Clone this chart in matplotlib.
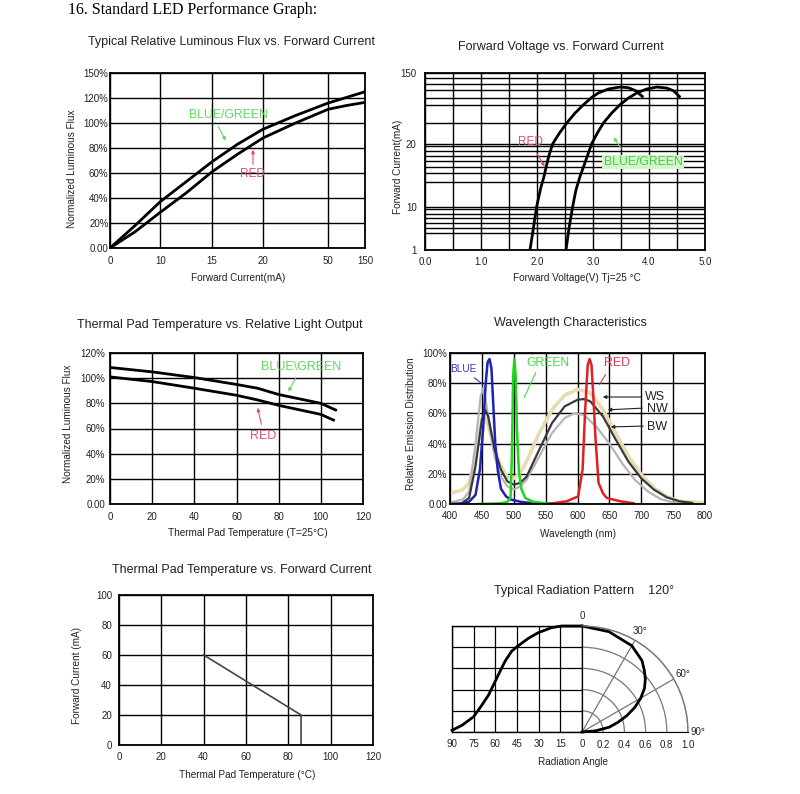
import numpy as np
import matplotlib
matplotlib.use('Agg')
import matplotlib.pyplot as plt
from matplotlib.patches import FancyArrowPatch

SANS = ['Liberation Sans', 'DejaVu Sans']
SERIF = ['Liberation Serif', 'DejaVu Serif']
plt.rcParams['font.family'] = SANS

W, H = 800, 794

# ---------------- data ----------------
# 1. Relative luminous flux vs forward current
flux_current = [0, 5, 10, 12.5, 15, 17.5, 20, 35, 50, 100, 150]
flux_bluegreen = [0, 18, 37, 53, 69, 83, 95, 106, 116, 120.5, 125]
flux_red = [0, 13, 28.5, 44, 61, 75, 88, 100, 111, 114, 116.5]
flux_xticks = [0, 10, 15, 20, 50, 150]
flux_xpos = [0, 1, 2.033, 3.047, 4.347, 5.08]
flux_yticks = [0, 20, 40, 60, 80, 100, 120, 140]
flux_ylabels = ['0.00', '20%', '40%', '60%', '80%', '100%', '120%', '150%']

# 2. Forward voltage vs forward current
vf_red_v = [1.875, 1.935, 1.994, 2.065, 2.125, 2.208, 2.28, 2.40, 2.53, 2.679, 2.83,
            2.976, 3.095, 3.274, 3.48, 3.631, 3.75, 3.88]
vf_red_i = [1, 5.5, 10, 12.9, 14.8, 17.98, 20, 39.6, 58, 76.4, 91.7,
            105.2, 113.2, 120.6, 124.2, 123, 118.1, 107]
vf_bg_v = [2.518, 2.571, 2.637, 2.696, 2.768, 2.875, 2.976, 3.077, 3.185, 3.333, 3.482,
           3.631, 3.78, 3.958, 4.137, 4.315, 4.435, 4.542]
vf_bg_i = [1, 5.5, 10, 12.66, 14.79, 17.45, 20, 39.6, 58, 76.4, 91.7,
           104, 113.2, 120.6, 124.2, 122.4, 117.5, 107]
vf_yticks = [1, 10, 20, 150]
vf_ypos = [0, 130, 318, 530]
vf_ygrid = [4.5, 5.6, 6.6, 7.6, 8.5, 9.5, 13.9, 15.4, 16.3, 17.3, 18.1, 18.8,
            19.6, 59, 91, 105, 119, 130, 140]
vf_xticks = [0, 1, 2, 3, 4, 5]
vf_xlabels = ['0.0', '1.0', '2.0', '3.0', '4.0', '5.0']
vf_xgrid = [0.5, 1.5, 2.5, 3.5, 4.5]

# 3. Thermal pad temperature vs relative light output
tp_bg_temp = [0, 20, 40, 60, 70, 80, 100, 107]
tp_bg = [108.5, 105, 100.5, 95, 92, 87, 80, 74.7]
tp_red_temp = [0, 20, 40, 60, 70, 80, 100, 106]
tp_red = [101, 97.3, 92, 86.4, 82.7, 78.4, 71.2, 66.7]
tp_xticks = [0, 20, 40, 60, 80, 100, 120]
tp_yticks = [0, 20, 40, 60, 80, 100, 120]
tp_ylabels = ['0.00', '20%', '40%', '60%', '80%', '100%', '120%']

# 4. Wavelength characteristics
wl_blue_x = [400, 420, 430, 440, 447, 452, 456, 459, 462, 465, 468, 471, 475, 480, 488, 495, 510, 530, 598]
wl_blue_y = [0, 0.5, 1.5, 6, 23, 50, 80, 94, 96, 90, 65, 40, 22, 10, 5, 3, 1.5, 0.5, 0]
wl_green_x = [444, 480, 490, 495, 497, 499, 501, 503, 505, 508, 512, 518, 530, 550, 572]
wl_green_y = [0, 0.5, 1.5, 4, 30, 85, 96, 85, 50, 22, 10, 4, 1.5, 0.5, 0]
wl_red_x = [554, 583, 601, 608, 612, 616, 619, 622, 625, 628, 633, 640, 646, 667, 688]
wl_red_y = [0, 1.8, 5, 23, 62, 92, 96, 92, 70, 45, 14, 7, 4, 1.8, 0.5]
wl_ws_x = [400, 420, 430, 440, 450, 455, 460, 470, 480, 490, 500, 510, 520, 540, 560, 580, 600,
           620, 640, 660, 680, 700, 720, 740, 760, 800]
wl_ws_y = [7, 9.5, 14, 31, 56, 58, 52, 36, 25, 18, 17, 20.5, 28, 47, 62.5, 72, 76,
           73.5, 62.5, 47, 31.5, 19.4, 10.6, 5, 1.8, 0.7]
wl_nw_x = [420, 430, 440, 450, 455, 460, 470, 480, 490, 500, 510, 520, 540, 560, 580, 600, 610,
           620, 640, 660, 680, 700, 720, 740, 760, 780]
wl_nw_y = [1, 4, 25, 56, 62.5, 58, 36, 22.7, 15, 12.8, 14, 18, 36, 53.6, 64.7, 69, 69.5,
           68, 58, 42.6, 28, 17, 9.5, 4.4, 1.8, 0.7]
wl_bw_x = [400, 420, 430, 440, 448, 452, 456, 462, 470, 480, 490, 500, 510, 520, 540, 560, 580,
           595, 610, 630, 650, 670, 690, 710, 730, 750, 770]
wl_bw_y = [1, 3, 8, 40, 71, 77, 69, 51, 31.5, 18, 11.7, 9.5, 11.7, 16, 31.5, 47, 57,
           60, 59, 51, 40, 27, 16, 8.4, 3.3, 1, 0.2]
wl_xticks = [400, 450, 500, 550, 600, 650, 700, 750, 800]
wl_yticks = [0, 20, 40, 60, 80, 100]
wl_ylabels = ['0.00', '20%', '40%', '60%', '80%', '100%']

# 5. Thermal pad temperature vs forward current (derating)
dr_temp = [40, 86, 86]
dr_current = [60, 20, 0]
dr_xticks = [0, 20, 40, 60, 80, 100, 120]
dr_yticks = [0, 20, 40, 60, 80, 100]

# 6. Radiation pattern
rad_cart_angle = [0, 14.2, 21.1, 30.3, 37.2, 45.2, 48.7, 53.3, 57.9, 61.3, 64.7, 69.3, 75.1, 83.1, 90]
rad_cart_rel = [1.0, 1.0, 0.984, 0.937, 0.883, 0.803, 0.762, 0.667, 0.54, 0.444, 0.349, 0.254,
                0.143, 0.063, 0.016]
rad_polar_angle = [0, 15, 30, 40, 45, 50, 55, 60, 65, 70, 75, 80, 85, 90]
rad_polar_rel = [1.0, 0.98, 0.94, 0.88, 0.83, 0.78, 0.72, 0.64, 0.55, 0.45, 0.35, 0.26, 0.13, 0.0]
rad_angle_ticks = [90, 75, 60, 45, 30, 15, 0]
rad_r_ticks = [0.2, 0.4, 0.6, 0.8, 1.0]
rad_theta_ticks = [0, 30, 60, 90]
rad_theta_labels = ['0', '30°', '60°', '90°']

# ---------------- helpers ----------------
fig = plt.figure(figsize=(W / 100, H / 100), dpi=100)
fig.patch.set_facecolor('white')


def add_ax(x0, y0, x1, y1, **kw):
    return fig.add_axes([x0 / W, 1 - y1 / H, (x1 - x0) / W, (y1 - y0) / H], **kw)


def ftext(x, y, s, **kw):
    kw.setdefault('ha', 'center')
    kw.setdefault('va', 'center')
    kw.setdefault('color', '#222222')
    fig.text(x / W, 1 - y / H, s, **kw)


def farrow(x0, y0, x1, y1, color, style='-|>'):
    fig.add_artist(FancyArrowPatch((x0 / W, 1 - y0 / H), (x1 / W, 1 - y1 / H),
                                   transform=fig.transFigure, arrowstyle=style,
                                   mutation_scale=5, color=color, lw=0.8))


def style(ax, ypad, xpad):
    for s in ax.spines.values():
        s.set_linewidth(1.3)
        s.set_color('black')
    ax.tick_params(which='both', length=0, labelsize=7, labelcolor='#222222')
    ax.tick_params(axis='y', pad=ypad)
    ax.tick_params(axis='x', pad=xpad)
    ax.grid(True, which='both', color='black', lw=1.0)
    ax.set_axisbelow(True)


GREEN_T = '#5fd85f'
RED_T = '#e0506e'
TS = 9
LS = 7.2

# main title
ftext(68, 10, '16. Standard LED Performance Graph:', family=SERIF, fontsize=11.5,
      ha='left', color='black')

# ---------------- panel 1 ----------------
ax1 = add_ax(110, 73, 365, 248)
ax1.set_xscale('function', functions=(lambda v: np.interp(v, flux_xticks, flux_xpos),
                                      lambda p: np.interp(p, flux_xpos, flux_xticks)))
ax1.plot(flux_current, flux_bluegreen, color='black', lw=2)
ax1.plot(flux_current, flux_red, color='black', lw=2)
ax1.set_xlim(0, 150)
ax1.set_ylim(0, 140)
ax1.set_xticks(flux_xticks)
ax1.set_xticklabels([str(v) for v in flux_xticks])
ax1.set_yticks(flux_yticks)
ax1.set_yticklabels(flux_ylabels)
style(ax1, 1, 6)
ftext(232, 42, 'Typical Relative Luminous Flux vs. Forward Current', fontsize=TS)
ftext(72, 169, 'Normalized Luminous Flux', rotation=90, fontsize=LS)
ftext(238, 278, 'Forward Current(mA)', fontsize=LS)
ftext(228, 115, 'BLUE/GREEN', fontsize=8.8, color=GREEN_T)
farrow(217, 124, 227, 143, GREEN_T)
ftext(252, 174, 'RED', fontsize=8.5, color=RED_T)
farrow(253, 167, 253, 147, RED_T)

# ---------------- panel 2 ----------------
ax2 = add_ax(425, 73, 705, 250)
ax2.set_yscale('function', functions=(lambda v: np.interp(v, vf_yticks, vf_ypos),
                                      lambda p: np.interp(p, vf_ypos, vf_yticks)))
ax2.plot(vf_red_v, vf_red_i, color='black', lw=2)
ax2.plot(vf_bg_v, vf_bg_i, color='black', lw=2)
ax2.set_xlim(0, 5)
ax2.set_ylim(1, 150)
ax2.set_yticks(vf_yticks)
ax2.set_yticklabels([str(v) for v in vf_yticks])
ax2.set_yticks(vf_ygrid, minor=True)
ax2.set_xticks(vf_xticks)
ax2.set_xticklabels(vf_xlabels)
ax2.set_xticks(vf_xgrid, minor=True)
ax2.yaxis.set_minor_formatter(plt.NullFormatter())
ax2.xaxis.set_minor_formatter(plt.NullFormatter())
style(ax2, 6, 4.7)
ftext(561, 47, 'Forward Voltage vs. Forward Current', fontsize=TS)
ftext(398, 167, 'Forward Current(mA)', rotation=90, fontsize=LS)
ftext(577, 278, 'Forward Voltage(V) Tj=25 °C', fontsize=LS)
ftext(530, 142, 'RED', fontsize=8.5, color=RED_T)
farrow(535, 150, 546, 169, RED_T)
ftext(643, 162, 'BLUE/GREEN', fontsize=8.8, color='#3fd23f',
      bbox=dict(boxstyle='square,pad=0.1', fc='#d4f5cc', ec='none'))
farrow(623, 151, 612, 135, GREEN_T)

# ---------------- panel 3 ----------------
ax3 = add_ax(110, 353, 363, 504)
ax3.plot(tp_bg_temp, tp_bg, color='black', lw=2)
ax3.plot(tp_red_temp, tp_red, color='black', lw=2)
ax3.set_xlim(0, 120)
ax3.set_ylim(0, 120)
ax3.set_xticks(tp_xticks)
ax3.set_yticks(tp_yticks)
ax3.set_yticklabels(tp_ylabels)
style(ax3, 3.6, 5.4)
ftext(220, 325, 'Thermal Pad Temperature vs. Relative Light Output', fontsize=TS)
ftext(68, 424, 'Normalized Luminous Flux', rotation=90, fontsize=LS)
ftext(248, 533, 'Thermal Pad Temperature (T=25°C)', fontsize=LS)
ftext(301, 367, 'BLUE\\GREEN', fontsize=9, color=GREEN_T)
farrow(297, 376, 287, 394, GREEN_T)
ftext(263, 436, 'RED', fontsize=9, color=RED_T)
farrow(262, 427, 257, 405, RED_T)

# ---------------- panel 4 ----------------
ax4 = add_ax(450, 353, 705, 504)
ax4.plot(wl_ws_x, wl_ws_y, color='#e8dbb0', lw=2.6)
ax4.plot(wl_bw_x, wl_bw_y, color='#b5b5b5', lw=1.6)
ax4.plot(wl_nw_x, wl_nw_y, color='#3a3a3a', lw=1.6)
ax4.plot(wl_blue_x, wl_blue_y, color='#1e22b8', lw=1.8)
ax4.plot(wl_green_x, wl_green_y, color='#22d422', lw=1.8)
ax4.plot(wl_red_x, wl_red_y, color='#dc2222', lw=1.8)
ax4.set_xlim(400, 800)
ax4.set_ylim(0, 100)
ax4.set_xticks(wl_xticks)
ax4.set_yticks(wl_yticks)
ax4.set_yticklabels(wl_ylabels)
style(ax4, 2.2, 4.7)
ftext(570, 323, 'Wavelength Characteristics', fontsize=TS)
ftext(411, 424, 'Relative Emission Distribution', rotation=90, fontsize=LS)
ftext(578, 534, 'Wavelength (nm)', fontsize=LS)
ftext(463, 369, 'BLUE', fontsize=7.2, color='#3333c4')
farrow(472, 376, 485, 386, '#3333c4', '-')
ftext(548, 363, 'GREEN', fontsize=8.7, color='#44dd44')
farrow(537, 370, 523, 400, '#44dd44', '-')
ftext(617, 363, 'RED', fontsize=8.9, color='#e03a50')
farrow(607, 372, 598, 387, '#e03a50', '-')
ftext(645, 397, 'WS', fontsize=9, ha='left', color='#222222')
farrow(644, 397, 600, 397, '#222222')
ftext(647, 409, 'NW', fontsize=9, ha='left', color='#222222')
farrow(645, 408, 605, 410, '#222222')
ftext(647, 427, 'BW', fontsize=9, ha='left', color='#222222')
farrow(646, 426, 608, 427, '#222222')

# ---------------- panel 5 ----------------
ax5 = add_ax(119, 595, 373, 745)
ax5.plot(dr_temp, dr_current, color='#444444', lw=1.2)
ax5.set_xlim(0, 120)
ax5.set_ylim(0, 100)
ax5.set_xticks(dr_xticks)
ax5.set_yticks(dr_yticks)
style(ax5, 5, 4.7)
ftext(242, 570, 'Thermal Pad Temperature vs. Forward Current', fontsize=TS)
ftext(77, 676, 'Forward Current (mA)', rotation=90, fontsize=LS)
ftext(247, 775, 'Thermal Pad Temperature (°C)', fontsize=LS)

# ---------------- panel 6 ----------------
ax6 = add_ax(452, 626, 582, 732)
ax6.plot(rad_cart_angle, rad_cart_rel, color='black', lw=2, clip_on=False)
ax6.set_xlim(90, 0)
ax6.set_ylim(0, 1)
ax6.set_xticks(rad_angle_ticks)
ax6.set_yticks([0, 0.2, 0.4, 0.6, 0.8, 1.0])
ax6.set_yticklabels([])
for s in ax6.spines.values():
    s.set_linewidth(1.0)
    s.set_color('black')
ax6.tick_params(length=0, labelsize=7, labelcolor='#222222', pad=5.2)
ax6.grid(True, color='black', lw=0.9)
ax6.set_axisbelow(True)

ax7 = add_ax(582, 626, 688, 732, projection='polar')
ax7.set_theta_zero_location('N')
ax7.set_theta_direction(-1)
ax7.set_thetamin(0)
ax7.set_thetamax(90)
ax7.set_rlim(0, 1)
ax7.plot(np.deg2rad(rad_polar_angle), rad_polar_rel, color='black', lw=2, clip_on=False)
ax7.set_rgrids(rad_r_ticks, labels=[''] * len(rad_r_ticks))
ax7.set_thetagrids(rad_theta_ticks, labels=rad_theta_labels)
ax7.tick_params(labelsize=7, labelcolor='#222222', pad=-3)
ax7.grid(True, color='#777777', lw=0.9)
ax7.spines['polar'].set_color('#777777')
ax7.spines['polar'].set_linewidth(1.0)
ax7.spines['start'].set_color('black')
ax7.spines['end'].set_color('black')
for r in rad_r_ticks:
    ftext(582 + 106 * r, 745, '%.1f' % r, fontsize=7)
ftext(584, 591, 'Typical Radiation Pattern    120°', fontsize=TS)
ftext(573, 762, 'Radiation Angle', fontsize=LS)

fig.savefig('out.png', dpi=100, facecolor='white')
